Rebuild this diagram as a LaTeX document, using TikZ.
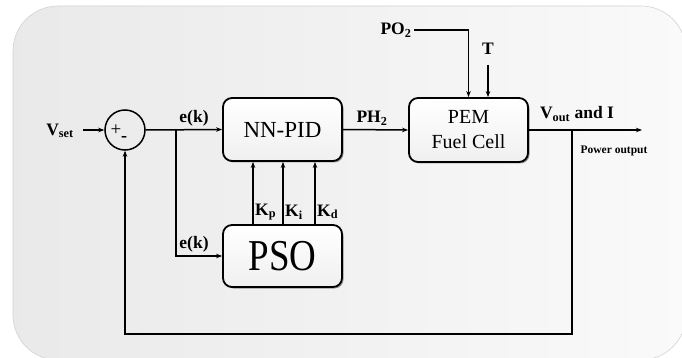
\documentclass[tikz,border=0pt]{standalone}
\usepackage{fontspec}
\setmainfont{Liberation Serif}
\usetikzlibrary{arrows.meta,shadows}
\begin{document}
\begin{tikzpicture}[x=1pt,y=-1pt,
  conn/.style={line width=1.5pt,-{Stealth[length=6pt,width=4.5pt]}},
  block/.style={draw=black,line width=1.8pt,rounded corners=9pt,
    top color=white,bottom color=gray!12,
    drop shadow={shadow xshift=1.5pt,shadow yshift=-1.5pt,opacity=0.6,fill=gray!70!black},
    minimum width=119pt,align=center,inner sep=0pt},
  lab/.style={font=\fontsize{17.5}{17.5}\selectfont\bfseries,inner sep=0pt},
  sumc/.style={circle,draw=black,line width=1.5pt,minimum size=40pt,inner sep=0pt}]
\useasboundingbox (0,0) rectangle (682,358);
% background
\shade[rounded corners=45pt,left color=gray!17,right color=gray!4,draw=gray!35,line width=0.6pt]
  (13,6) rectangle (686,360);
% nodes
\node[sumc] (sum) at (125,130) {};
\node[font=\fontsize{19}{19}\selectfont,inner sep=0pt] (plus) at (116,130) {+};
\node[font=\fontsize{18}{18}\selectfont\bfseries,inner sep=0pt] (minus) at (124,139) {-};
\node[block,minimum height=63pt,font=\fontsize{23}{23}\selectfont] (nn) at (282.5,129.5) {NN-PID};
\node[block,minimum height=62pt,font=\fontsize{42}{42}\selectfont] (pso) at (282.5,256) {\scalebox{0.88}[1.05]{PSO}};
\node[block,minimum height=64pt,font=\fontsize{20}{25}\selectfont] (pem) at (468.5,130) {PEM\\Fuel Cell};
% labels
\node[lab] (vset) at (60,131) {V\textsubscript{set}};
\node[lab] (ek1) at (194,118) {e(k)};
\node[lab] (ek2) at (194,244) {e(k)};
\node[lab] (ph2) at (372,118) {PH\textsubscript{2}};
\node[lab] (po2) at (396,30) {PO\textsubscript{2}};
\node[lab] (tlab) at (488,49) {T};
\node[lab] (vout) at (577,114) {V\textsubscript{out} and I};
\node[font=\fontsize{11.5}{12}\selectfont\bfseries,inner sep=0pt] (pout) at (614,151) {Power output};
\node[lab,anchor=west] (kp) at (255,212) {K\textsubscript{p}};
\node[lab,anchor=west] (ki) at (285,212) {K\textsubscript{i}};
\node[lab,anchor=west] (kd) at (317,212) {K\textsubscript{d}};
% coordinates
\coordinate (vin) at (83,130);
\coordinate (b1) at (176,130);
\coordinate (b2) at (572,130);
\coordinate (out) at (642,130);
\coordinate (fb) at (572,334);
\coordinate (tin) at (488,65);
\coordinate (po2e) at (414,30);
% connectors
\draw[conn] (vin) -- (sum.west);
\draw[conn] (sum.east) -- (nn.west);
\draw[conn] (b1) |- (pso.west);
\draw[conn] ([xshift=-29.5pt]pso.north) -- ([xshift=-29.5pt]nn.south);
\draw[conn] ([xshift=0.5pt]pso.north) -- ([xshift=0.5pt]nn.south);
\draw[conn] ([xshift=32.5pt]pso.north) -- ([xshift=32.5pt]nn.south);
\draw[conn] (nn.east) -- (pem.west);
\draw[conn] (po2e) -| (pem.north);
\draw[conn] (tin) -- (tin |- pem.north);
\draw[conn] (pem.east) -- (out);
\draw[conn] (b2) -- (fb) -| (sum.south);
\end{tikzpicture}
\end{document}
